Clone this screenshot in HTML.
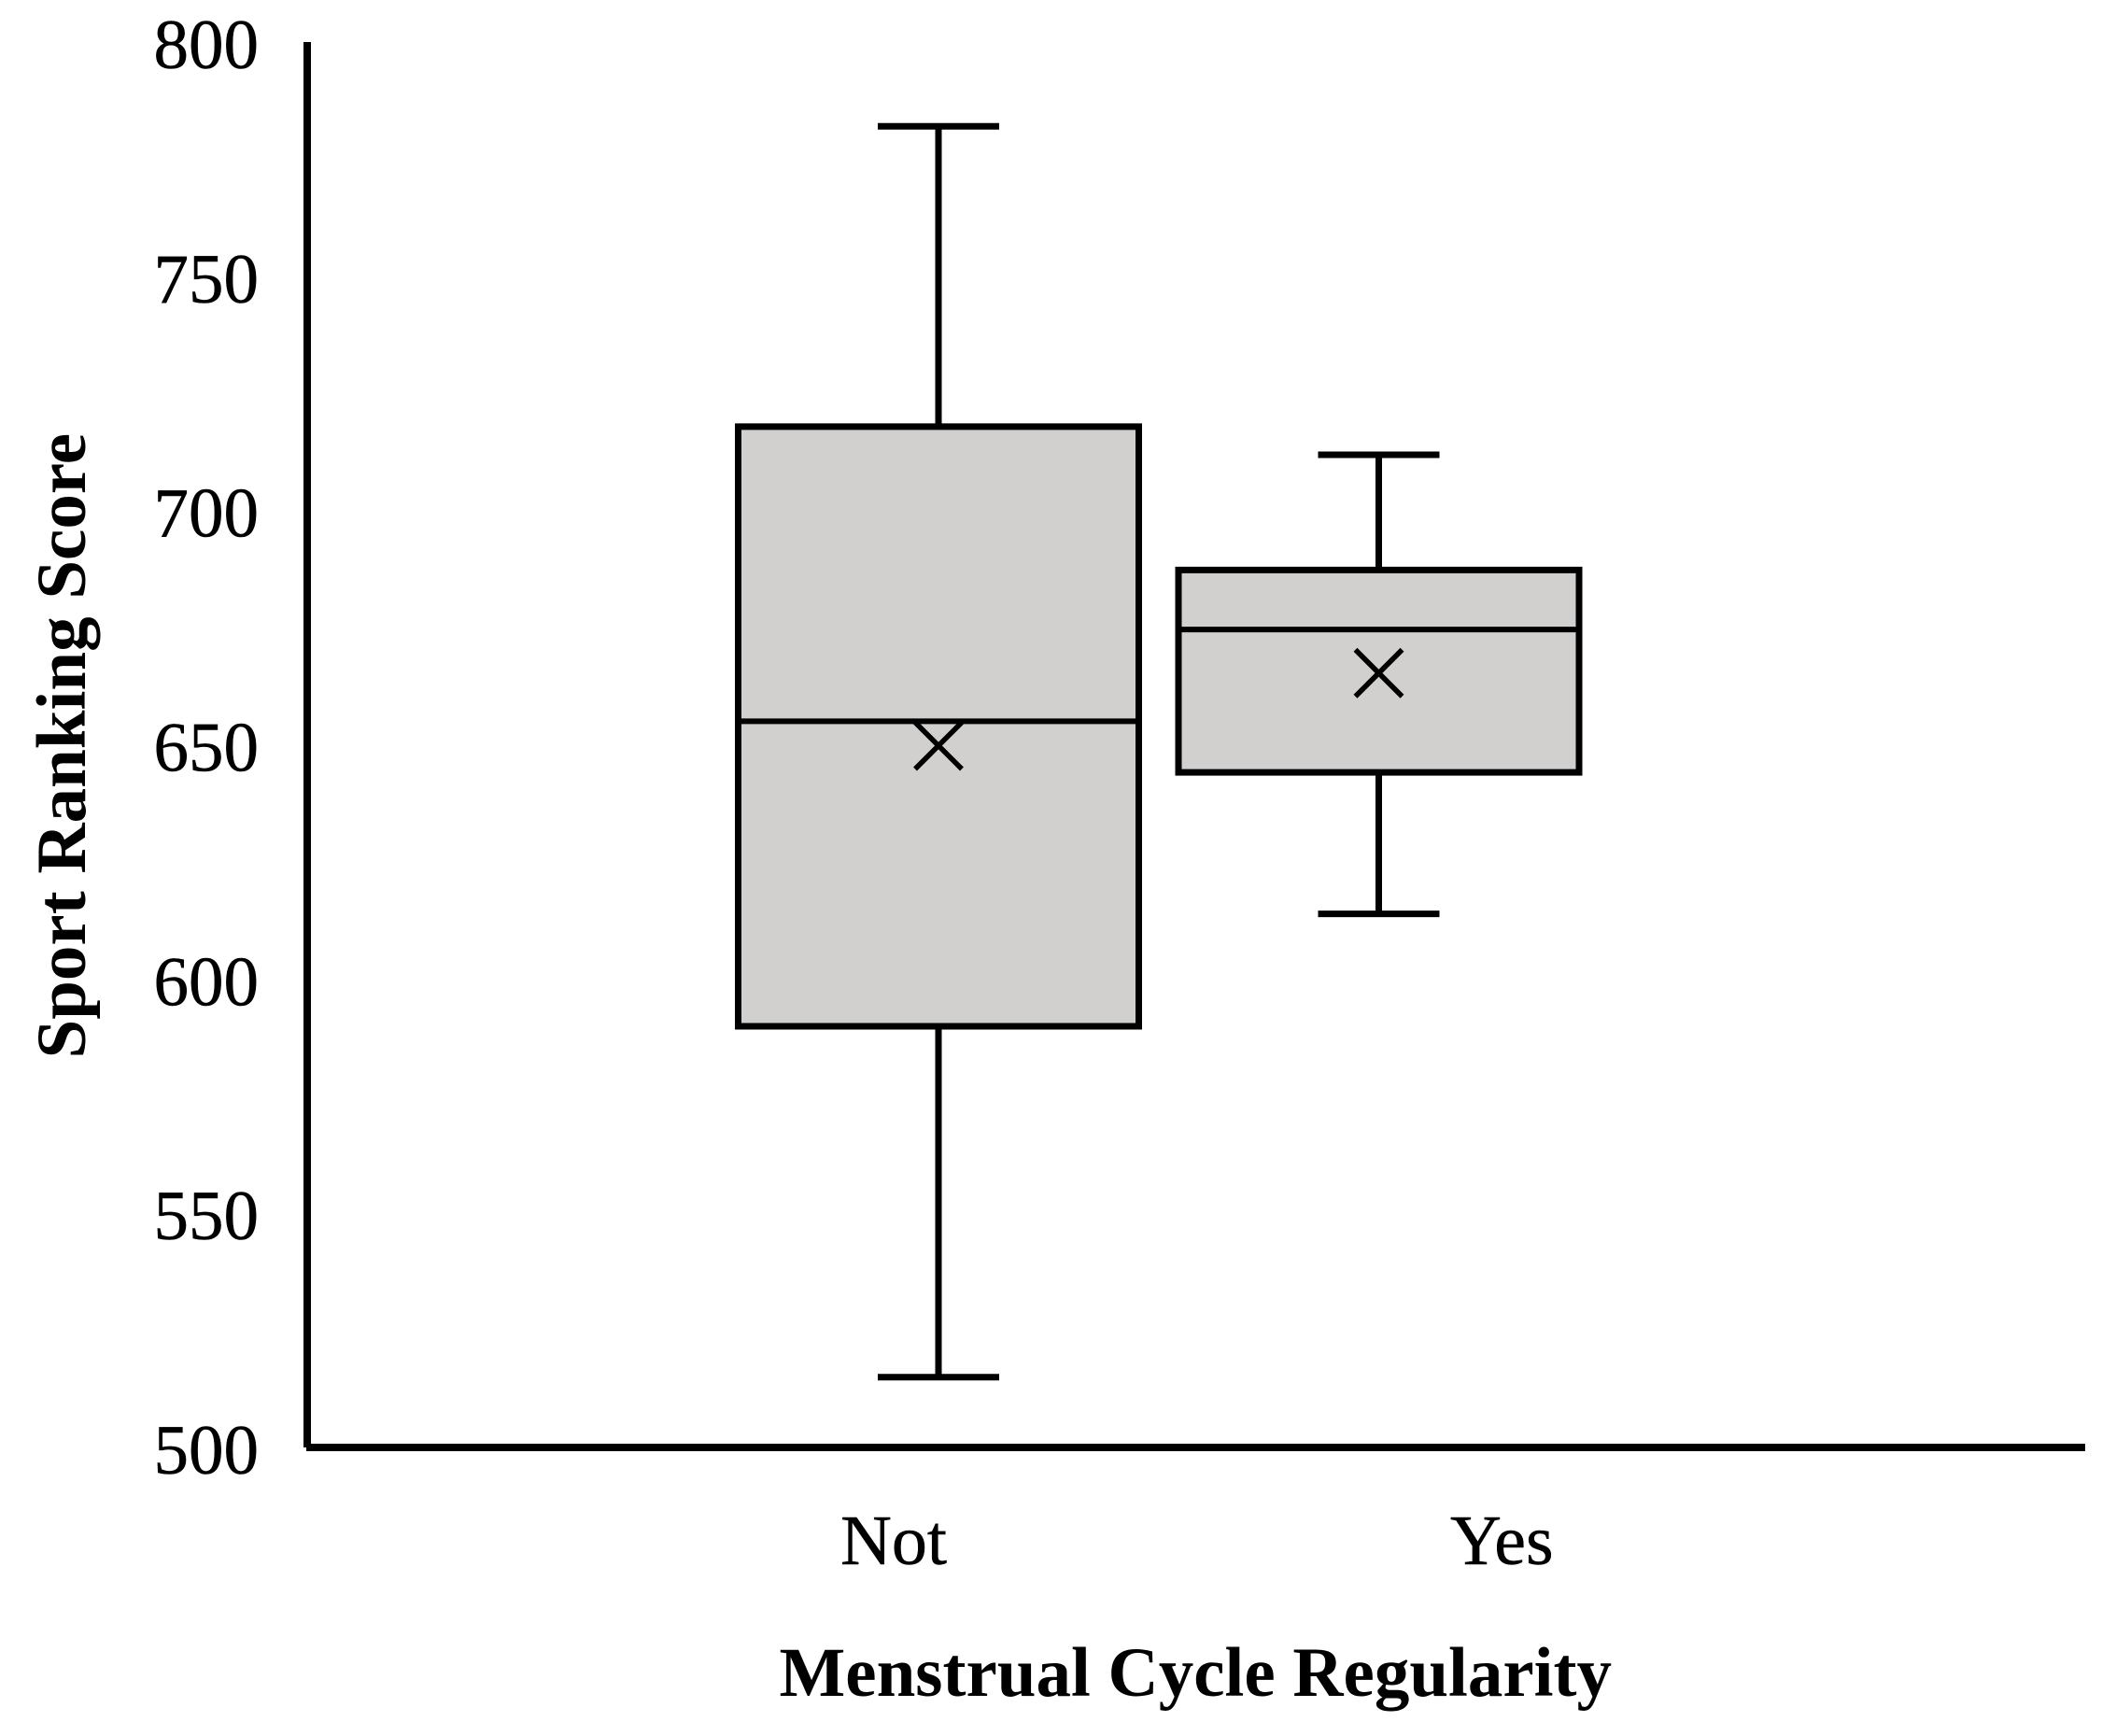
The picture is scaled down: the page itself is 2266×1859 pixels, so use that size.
<!DOCTYPE html>
<html lang="en">
<head>
<meta charset="utf-8">
<title>Sport Ranking Score by Menstrual Cycle Regularity</title>
<style>
  html, body { margin: 0; padding: 0; background: #fff; }
  body { width: 2266px; height: 1859px; overflow: hidden; }
  svg { display: block; }
  text { font-family: "Liberation Serif", "Times New Roman", serif; fill: #000; }
</style>
</head>
<body>
<svg id="chart" xmlns="http://www.w3.org/2000/svg" width="2266" height="1859" viewBox="0 0 2266 1859">
  <rect x="0" y="0" width="2266" height="1859" fill="#ffffff"/>
  <g id="marks"></g>
  <g id="y-ticks"></g>
  <g id="x-ticks"></g>
  <line x1="329" y1="45" x2="329" y2="1550" stroke="#000" stroke-width="8"/>
  <line x1="328" y1="1550" x2="2233" y2="1550" stroke="#000" stroke-width="8"/>
  <text transform="translate(91 1133.5) rotate(-90)" font-size="75" font-weight="700">Sport Ranking Score</text>
  <text x="834.5" y="1816" font-size="75" font-weight="700">Menstrual Cycle Regularity</text>
</svg>
<script>
const categories = ['Not', 'Yes'];
const whiskerHigh = [782.0, 711.9];
const quartile3 = [717.9, 687.3];
const medians = [655.0, 674.6];
const means = [649.8, 665.3];
const quartile1 = [589.9, 644.1];
const whiskerLow = [515.0, 613.9];
const yTickLabels = [500, 550, 600, 650, 700, 750, 800];

const SVG_NS = 'http://www.w3.org/2000/svg';
const yScale = v => 1550 - (v - 500) * (1505 / 300);
const xScale = i => 1005 + i * 471.5;
const BOX_HALF = 214.5;
const CAP_HALF = 65;
const MEAN_HALF = 25;
const marks = document.getElementById('marks');
const yTicks = document.getElementById('y-ticks');
const xTicks = document.getElementById('x-ticks');

function drawLine(parent, x1, y1, x2, y2, width) {
  const el = document.createElementNS(SVG_NS, 'line');
  el.setAttribute('x1', x1);
  el.setAttribute('y1', y1);
  el.setAttribute('x2', x2);
  el.setAttribute('y2', y2);
  el.setAttribute('stroke', '#000');
  el.setAttribute('stroke-width', width);
  parent.appendChild(el);
  return el;
}

categories.forEach((cat, i) => {
  const key = cat.toLowerCase();
  const cx = xScale(i);

  const group = document.createElementNS(SVG_NS, 'g');
  
  
  marks.appendChild(group);

  const whisker = drawLine(group, cx, yScale(whiskerHigh[i]), cx, yScale(whiskerLow[i]), 7);
  
  

  const capHigh = drawLine(group, cx - CAP_HALF, yScale(whiskerHigh[i]), cx + CAP_HALF, yScale(whiskerHigh[i]), 7);
  
  

  const capLow = drawLine(group, cx - CAP_HALF, yScale(whiskerLow[i]), cx + CAP_HALF, yScale(whiskerLow[i]), 7);
  
  

  const box = document.createElementNS(SVG_NS, 'rect');
  box.setAttribute('x', cx - BOX_HALF);
  box.setAttribute('y', yScale(quartile3[i]));
  box.setAttribute('width', BOX_HALF * 2);
  box.setAttribute('height', yScale(quartile1[i]) - yScale(quartile3[i]));
  box.setAttribute('fill', '#d1d0ce');
  box.setAttribute('stroke', '#000');
  box.setAttribute('stroke-width', 7);
  
  
  group.appendChild(box);

  const median = drawLine(group, cx - BOX_HALF, yScale(medians[i]), cx + BOX_HALF, yScale(medians[i]), 6);
  
  

  const my = yScale(means[i]);
  const meanMark = document.createElementNS(SVG_NS, 'path');
  meanMark.setAttribute('d', 'M' + (cx - MEAN_HALF) + ' ' + (my - MEAN_HALF) + 'L' + (cx + MEAN_HALF) + ' ' + (my + MEAN_HALF) + 'M' + (cx + MEAN_HALF) + ' ' + (my - MEAN_HALF) + 'L' + (cx - MEAN_HALF) + ' ' + (my + MEAN_HALF));
  meanMark.setAttribute('fill', 'none');
  meanMark.setAttribute('stroke', '#000');
  meanMark.setAttribute('stroke-width', 5.5);
  
  
  group.appendChild(meanMark);

  const label = document.createElementNS(SVG_NS, 'text');
  label.setAttribute('x', i === 0 ? 900 : 1553);
  label.setAttribute('y', 1675);
  label.setAttribute('font-size', 76);
  label.setAttribute('stroke', '#000');
  label.setAttribute('stroke-width', 0.5);
  label.textContent = cat;
  
  
  xTicks.appendChild(label);
});

yTickLabels.forEach(v => {
  const t = document.createElementNS(SVG_NS, 'text');
  t.setAttribute('x', 277);
  t.setAttribute('y', yScale(v) + 28);
  t.setAttribute('text-anchor', 'end');
  t.setAttribute('font-size', 75);
  t.setAttribute('stroke', '#000');
  t.setAttribute('stroke-width', 0.5);
  t.textContent = v;
  
  
  yTicks.appendChild(t);
});
</script>
</body>
</html>
